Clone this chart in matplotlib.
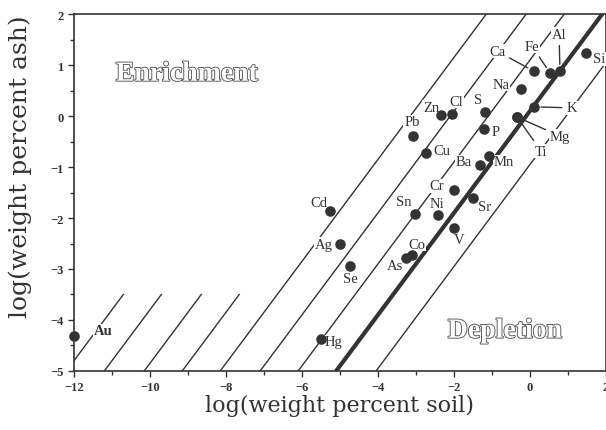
import matplotlib
matplotlib.use("Agg")
import matplotlib.pyplot as plt
import matplotlib.patheffects as pe
from matplotlib.ticker import MultipleLocator

# element concentrations, log(weight percent)
elements = ["Ca", "Fe", "Al", "Si", "Na", "K", "Mg", "Ti", "S", "P", "Zn", "Cl", "Pb", "Cu",
            "Ba", "Mn", "Cr", "Sr", "Sn", "Ni", "V", "Co", "As", "Cd", "Ag", "Se", "Hg", "Au"]
log_soil = [0.105, 0.53, 0.79, 1.47, -0.24, 0.105, -0.34, -0.34, -1.18, -1.21, -2.34, -2.05, -3.08, -2.74,
            -1.32, -1.08, -2.0, -1.5, -3.03, -2.42, -2.0, -3.1, -3.26, -5.26, -5.0, -4.74, -5.5, -12.0]
log_ash = [0.88, 0.84, 0.88, 1.24, 0.53, 0.18, -0.02, -0.02, 0.08, -0.25, 0.02, 0.04, -0.39, -0.73,
           -0.96, -0.78, -1.45, -1.61, -1.92, -1.94, -2.2, -2.73, -2.78, -1.86, -2.51, -2.94, -4.37, -4.31]

# enrichment lines y = x + c
thick_offset = 0.1
full_offsets = [-0.95, 1.1, 2.1, 3.15]
short_offsets = [4.15, 5.15, 6.2, 7.2]
short_top = -3.5

# label placement: (dx, dy) in pixels, leader line or not
label_pos = {
    "Ca": (-37, 20, True), "Fe": (-18, 27, True), "Al": (-1, 37, True), "Si": (7, -6, False),
    "Na": (-20, 5, False), "K": (38, -1, True), "Mg": (43, -19, True), "Ti": (24, -34, True),
    "S": (-7, 12, False), "P": (12, -3, False), "Zn": (-10, 8, False), "Cl": (4, 13, False),
    "Pb": (-1, 14, False), "Cu": (16, 3, False), "Ba": (-16, 3, False), "Mn": (15, -6, False),
    "Cr": (-17, 4, False), "Sr": (12, -8, False), "Sn": (-11, 12, False), "Ni": (-1, 11, False),
    "V": (5, -11, False), "Co": (5, 11, False), "As": (-11, -8, False), "Cd": (-11, 8, False),
    "Ag": (-16, 0, False), "Se": (1, -13, False), "Hg": (13, -3, False), "Au": (20, 5, False),
}

ink = "#333333"
serif = ["Liberation Serif", "DejaVu Serif"]

fig = plt.figure(figsize=(6.06, 4.31), dpi=100)
ax = fig.add_axes([0.122, 0.137, 0.878, 0.828])
ax.set_xlim(-12, 2)
ax.set_ylim(-5, 2)

# diagonal lines
ax.axline((0, thick_offset), slope=1, color=ink, lw=3, zorder=2)
for c in full_offsets:
    ax.axline((0, c), slope=1, color=ink, lw=1, zorder=1)
for c in short_offsets:
    ax.plot([-5 - c, short_top - c], [-5, short_top], color=ink, lw=1, zorder=1)

ax.scatter(log_soil, log_ash, s=58, color=ink, zorder=5, clip_on=False, linewidths=0)

for name, x, y in zip(elements, log_soil, log_ash):
    dx, dy, leader = label_pos[name]
    ha = "left" if name in ("Si", "Au") else "center"
    arrow = dict(arrowstyle="-", color=ink, lw=1, shrinkA=3, shrinkB=5) if leader else None
    ax.annotate(name, (x, y), xytext=(dx, dy), textcoords="offset pixels",
                ha=ha, va="center", fontsize=10.5, family=serif, color=ink,
                fontweight="bold" if name == "Au" else "normal",
                bbox=dict(fc="white", ec="none", pad=0.5), arrowprops=arrow,
                zorder=4, annotation_clip=False)

outline = [pe.withStroke(linewidth=1.3, foreground="#555555")]
ax.text(-9.03, 0.82, "Enrichment", fontsize=20, fontweight="bold", family=serif,
        color="white", ha="center", va="center", path_effects=outline, zorder=6)
ax.text(-0.66, -4.22, "Depletion", fontsize=20, fontweight="bold", family=serif,
        color="white", ha="center", va="center", path_effects=outline, zorder=6,
        bbox=dict(fc="white", ec="none", pad=1))

ax.xaxis.set_major_locator(MultipleLocator(2))
ax.xaxis.set_minor_locator(MultipleLocator(1))
ax.yaxis.set_major_locator(MultipleLocator(1))
ax.yaxis.set_minor_locator(MultipleLocator(0.5))
ax.tick_params(which="both", direction="out", color=ink, width=1)
ax.tick_params(which="major", length=4, labelsize=9, labelcolor=ink)
ax.tick_params(which="minor", length=3)
for lab in ax.get_xticklabels() + ax.get_yticklabels():
    lab.set_family(serif)
    lab.set_fontweight("bold")
for sp in ax.spines.values():
    sp.set_color(ink)
    sp.set_linewidth(1.2)

label_font = ["DejaVu Serif"]
ax.set_xlabel("log(weight percent soil)", fontsize=16, family=label_font, color=ink)
ax.set_ylabel("log(weight percent ash)", fontsize=18, family=label_font, color=ink)
ax.xaxis.set_label_coords(0.5, -0.065)
ax.yaxis.set_label_coords(-0.078, 0.574)

fig.savefig("out.png", dpi=100)
